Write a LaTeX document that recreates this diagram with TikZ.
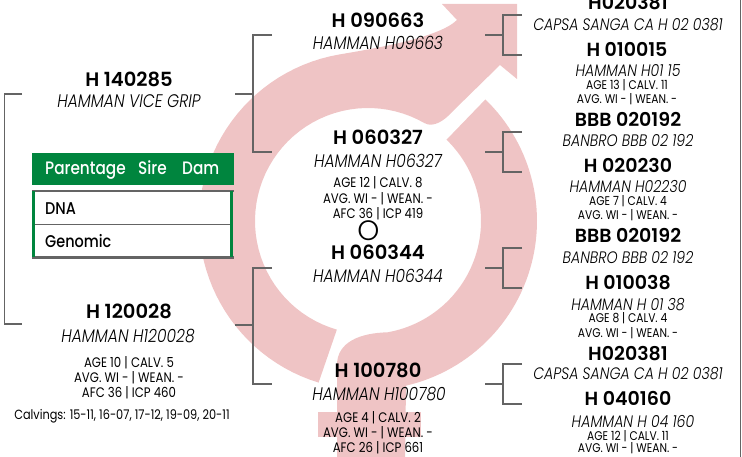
\documentclass[tikz,border=0pt]{standalone}
\usepackage{fontspec}
\setmainfont{Poppins}
\newfontfamily\cond[FakeStretch=0.85]{Poppins}
\newfontfamily\hdf{Poppins SemiBold}
\newfontfamily\medf[FakeStretch=0.85]{Poppins Medium}
\newfontfamily\itf[FakeStretch=0.85]{Poppins Light Italic}
\newfontfamily\lightf{Poppins Light}
\definecolor{pinkA}{RGB}{239,196,197}
\definecolor{grn}{RGB}{0,133,62}
\definecolor{ln}{RGB}{100,100,100}
\begin{document}
\begin{tikzpicture}[x=1pt,y=-1pt,
  hd/.style={font=\hdf\fontsize{19.5}{19.5}\selectfont, inner sep=0pt, anchor=base},
  hdr/.style={font=\hdf\fontsize{19}{19}\selectfont, inner sep=0pt, anchor=base},
  nm/.style={font=\itf\fontsize{18.2}{18.2}\selectfont, inner sep=0pt, anchor=base},
  nmr/.style={font=\itf\fontsize{16.6}{16.6}\selectfont, inner sep=0pt, anchor=base},
  sm/.style={font=\cond\fontsize{13.8}{13.8}\selectfont, inner sep=0pt, anchor=base},
  smr/.style={font=\cond\fontsize{12.6}{12.6}\selectfont, inner sep=0pt, anchor=base},
  tb/.style={font=\medf\fontsize{18}{18}\selectfont, inner sep=0pt, anchor=base west},
  br/.style={draw=ln, line width=1.1pt},
]
\useasboundingbox (0,0) rectangle (742,457);
% pink circular arrows
\fill[pinkA] plot[domain=107:260, samples=50] ({368+169*cos(\x)},{221+169*sin(\x)})
  .. controls (378,48) and (439,37.5) .. (457,20)
  -- (442,4) -- (517,4) -- (517,79) -- (500,65) -- (452,112)
  .. controls (444,121) and (433,128) .. (424.5,123.1)
  -- plot[domain=300:106, samples=50] ({368+113*cos(\x)},{221+113*sin(\x)}) -- cycle;
\fill[pinkA] plot[domain=314:437, samples=60] ({368+169*cos(\x)},{221+169*sin(\x)})
  -- (405,460) -- (337,460) -- (337,365) .. controls (337,342) and (360,333) .. (387.6,332.3)
  -- plot[domain=440:314, samples=60] ({368+113*cos(\x)},{221+113*sin(\x)}) -- cycle;
\fill[pinkA] (318,412) rectangle (421,437);
% frame line
\draw[ln, line width=1pt] (740.5,0) -- (740.5,457);

% left column
\node[hd] (a) at (129,87) {H 140285};
\node[nm] (an) at (129,108) {HAMMAN VICE GRIP};
\node[hd] (b) at (129,318) {H 120028};
\node[nm] (bn) at (128,342) {HAMMAN H120028};
\node[sm] (b1) at (129,367) {AGE 10 | CALV. 5};
\node[sm] (b2) at (129,382) {AVG. WI - | WEAN. -};
\node[sm] (b3) at (129,397) {AFC 36 | ICP 460};
\node[sm, font=\cond\fontsize{13.3}{13.3}\selectfont] (cv) at (122,419) {Calvings: 15-11, 16-07, 17-12, 19-09, 20-11};

% table
\fill[grn] (32,153) rectangle (234,185);
\node[tb, white] (tp) at (45,175) {Parentage};
\node[tb, white] (ts) at (138,175) {Sire};
\node[tb, white] (td) at (182,175) {Dam};
\fill[white] (33,191) rectangle (232,257);
\node[tb, font=\medf\fontsize{17}{17}\selectfont] (dna) at (45,215) {DNA};
\node[tb, font=\medf\fontsize{17}{17}\selectfont] (gen) at (45,248) {Genomic};
\draw[ln, line width=2.2pt] (32,191) -- (234,191);
\draw[ln, line width=1.3pt] (33,224.5) -- (232,224.5);
\draw[ln, line width=2.2pt] (32,257.5) -- (234,257.5);
\draw[grn, line width=2.6pt] (33.5,191) -- (33.5,257);
\draw[grn, line width=2.6pt] (231.5,191) -- (231.5,257);

% middle column
\node[hd] (c) at (378,28) {H 090663};
\node[nm] (cn) at (378,50) {HAMMAN H09663};
\node[hd] (d) at (378,145) {H 060327};
\node[nm] (dn) at (378,168) {HAMMAN H06327};
\node[sm] (d1) at (378,188) {AGE 12 | CALV. 8};
\node[sm] (d2) at (378,204) {AVG. WI - | WEAN. -};
\node[sm] (d3) at (378,219) {AFC 36 | ICP 419};
\node[inner sep=0pt, anchor=base, font=\lightf\fontsize{28}{28}\selectfont] (o) at (368.5,240.5) {O};
\node[hd] (e) at (378,260) {H 060344};
\node[nm] (en) at (378,283) {HAMMAN H06344};
\node[hd] (f) at (378,377) {H 100780};
\node[nm] (fn) at (379,400) {HAMMAN H100780};
\node[sm] (f1) at (378,422) {AGE 4 | CALV. 2};
\node[sm] (f2) at (378,437) {AVG. WI - | WEAN. -};
\node[sm] (f3) at (378,452) {AFC 26 | ICP 661};

% right column
\node[hdr] (g) at (628,10) {H020381};
\node[nmr] (gn) at (628,31) {CAPSA SANGA CA H 02 0381};
\node[hdr] (h) at (627,57) {H 010015};
\node[nmr] (hn) at (628,77) {HAMMAN H01 15};
\node[smr] (h1) at (627,89.5) {AGE 13 | CALV. 11};
\node[smr] (h2) at (627,104) {AVG. WI - | WEAN. -};
\node[hdr] (i) at (628,127) {BBB 020192};
\node[nmr] (in) at (628,147) {BANBRO BBB 02 192};
\node[hdr] (j) at (628,173) {H 020230};
\node[nmr] (jn) at (628,193) {HAMMAN H02230};
\node[smr] (j1) at (628,206) {AGE 7 | CALV. 4};
\node[smr] (j2) at (628,220) {AVG. WI - | WEAN. -};
\node[hdr] (k) at (628,243) {BBB 020192};
\node[nmr] (kn) at (628,264) {BANBRO BBB 02 192};
\node[hdr] (l) at (628,290) {H 010038};
\node[nmr] (ln2) at (628,310) {HAMMAN H 01 38};
\node[smr] (l1) at (628,322.5) {AGE 8 | CALV. 4};
\node[smr] (l2) at (628,337) {AVG. WI - | WEAN. -};
\node[hdr] (m) at (628,360) {H020381};
\node[nmr] (mn) at (628,379) {CAPSA SANGA CA H 02 0381};
\node[hdr] (n) at (628,405) {H 040160};
\node[nmr] (nn) at (633,427) {HAMMAN H 04 160};
\node[smr] (n1) at (628,440) {AGE 12 | CALV. 11};
\node[smr] (n2) at (628,452) {AVG. WI - | WEAN. -};

% bracket coordinates
\coordinate (P0t) at (22,94);  \coordinate (P0b) at (22,324);
\coordinate (V0t) at (4.5,94); \coordinate (V0b) at (4.5,324);
\foreach \nm/\sy/\ty/\by/\sx/\vx/\ax in {
  S/94/35/152/235/253/272,
  D/325/268/384/235/253/272,
  R1/35/15/55/485/503/522,
  R2/152/132/172/485/503/522,
  R3/268/248/288/485/503/522,
  R4/384/364/404/485/503/522}{
  \coordinate (\nm s) at (\sx,\sy);
  \coordinate (\nm j) at (\vx,\sy);
  \coordinate (\nm t) at (\ax,\ty);
  \coordinate (\nm b) at (\ax,\by);
}
\draw[br] (P0t) -- (V0t) -- (V0b) -- (P0b);
\foreach \nm in {S,D,R1,R2,R3,R4}{
  \draw[br] (\nm s) -- (\nm j);
  \draw[br] (\nm t) -| (\nm j) |- (\nm b);
}
\end{tikzpicture}
\end{document}
